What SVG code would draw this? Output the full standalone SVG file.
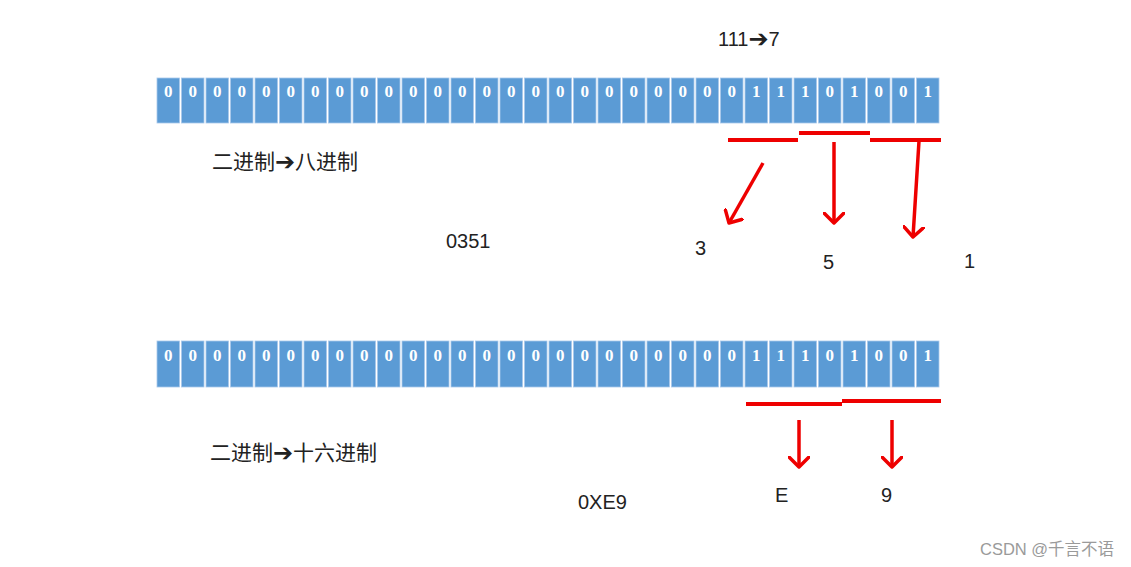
<svg xmlns="http://www.w3.org/2000/svg" width="1131" height="567" viewBox="0 0 1131 567">
<style>
.cell{fill:#5b9bd5;stroke:#a9c8ea;stroke-width:0.8}
.bit{font-family:"Liberation Serif",serif;font-weight:bold;font-size:17px;fill:#ffffff;text-anchor:middle}
.lbl{font-family:"Liberation Sans",Arial,sans-serif;font-size:20px;fill:#222222}
.cn{font-family:"Liberation Sans","Noto Sans CJK SC",sans-serif;font-size:21px;fill:#222222}
.ar{font-family:"DejaVu Sans",sans-serif;font-size:24px}
.bar{stroke:#ee0000;stroke-width:4;fill:none}
.arr{stroke:#ee0000;stroke-width:3.5;fill:none;marker-end:url(#ah)}
.wm{font-family:"Liberation Sans","Noto Sans CJK SC",sans-serif;font-size:16.5px;fill:#9a9a9a}
</style>
<defs>
<marker id="ah" viewBox="0 0 22 22" refX="11" refY="11" markerWidth="22" markerHeight="22" markerUnits="userSpaceOnUse" orient="auto">
<polyline points="1,1 11,11 1,21" fill="none" stroke="#ee0000" stroke-width="3.5" stroke-linecap="round" stroke-linejoin="round"/>
</marker>
</defs>
<rect width="1131" height="567" fill="#ffffff"/>

<g id="row1">
<g id="a0" transform="translate(157,78)"><rect class="cell" width="22.5" height="45"/><text class="bit" x="11.25" y="19">0</text></g>
<g id="a1" transform="translate(181.5,78)"><rect class="cell" width="22.5" height="45"/><text class="bit" x="11.25" y="19">0</text></g>
<g id="a2" transform="translate(206,78)"><rect class="cell" width="22.5" height="45"/><text class="bit" x="11.25" y="19">0</text></g>
<g id="a3" transform="translate(230.5,78)"><rect class="cell" width="22.5" height="45"/><text class="bit" x="11.25" y="19">0</text></g>
<g id="a4" transform="translate(255,78)"><rect class="cell" width="22.5" height="45"/><text class="bit" x="11.25" y="19">0</text></g>
<g id="a5" transform="translate(279.5,78)"><rect class="cell" width="22.5" height="45"/><text class="bit" x="11.25" y="19">0</text></g>
<g id="a6" transform="translate(304,78)"><rect class="cell" width="22.5" height="45"/><text class="bit" x="11.25" y="19">0</text></g>
<g id="a7" transform="translate(328.5,78)"><rect class="cell" width="22.5" height="45"/><text class="bit" x="11.25" y="19">0</text></g>
<g id="a8" transform="translate(353,78)"><rect class="cell" width="22.5" height="45"/><text class="bit" x="11.25" y="19">0</text></g>
<g id="a9" transform="translate(377.5,78)"><rect class="cell" width="22.5" height="45"/><text class="bit" x="11.25" y="19">0</text></g>
<g id="a10" transform="translate(402,78)"><rect class="cell" width="22.5" height="45"/><text class="bit" x="11.25" y="19">0</text></g>
<g id="a11" transform="translate(426.5,78)"><rect class="cell" width="22.5" height="45"/><text class="bit" x="11.25" y="19">0</text></g>
<g id="a12" transform="translate(451,78)"><rect class="cell" width="22.5" height="45"/><text class="bit" x="11.25" y="19">0</text></g>
<g id="a13" transform="translate(475.5,78)"><rect class="cell" width="22.5" height="45"/><text class="bit" x="11.25" y="19">0</text></g>
<g id="a14" transform="translate(500,78)"><rect class="cell" width="22.5" height="45"/><text class="bit" x="11.25" y="19">0</text></g>
<g id="a15" transform="translate(524.5,78)"><rect class="cell" width="22.5" height="45"/><text class="bit" x="11.25" y="19">0</text></g>
<g id="a16" transform="translate(549,78)"><rect class="cell" width="22.5" height="45"/><text class="bit" x="11.25" y="19">0</text></g>
<g id="a17" transform="translate(573.5,78)"><rect class="cell" width="22.5" height="45"/><text class="bit" x="11.25" y="19">0</text></g>
<g id="a18" transform="translate(598,78)"><rect class="cell" width="22.5" height="45"/><text class="bit" x="11.25" y="19">0</text></g>
<g id="a19" transform="translate(622.5,78)"><rect class="cell" width="22.5" height="45"/><text class="bit" x="11.25" y="19">0</text></g>
<g id="a20" transform="translate(647,78)"><rect class="cell" width="22.5" height="45"/><text class="bit" x="11.25" y="19">0</text></g>
<g id="a21" transform="translate(671.5,78)"><rect class="cell" width="22.5" height="45"/><text class="bit" x="11.25" y="19">0</text></g>
<g id="a22" transform="translate(696,78)"><rect class="cell" width="22.5" height="45"/><text class="bit" x="11.25" y="19">0</text></g>
<g id="a23" transform="translate(720.5,78)"><rect class="cell" width="22.5" height="45"/><text class="bit" x="11.25" y="19">0</text></g>
<g id="a24" transform="translate(745,78)"><rect class="cell" width="22.5" height="45"/><text class="bit" x="11.25" y="19">1</text></g>
<g id="a25" transform="translate(769.5,78)"><rect class="cell" width="22.5" height="45"/><text class="bit" x="11.25" y="19">1</text></g>
<g id="a26" transform="translate(794,78)"><rect class="cell" width="22.5" height="45"/><text class="bit" x="11.25" y="19">1</text></g>
<g id="a27" transform="translate(818.5,78)"><rect class="cell" width="22.5" height="45"/><text class="bit" x="11.25" y="19">0</text></g>
<g id="a28" transform="translate(843,78)"><rect class="cell" width="22.5" height="45"/><text class="bit" x="11.25" y="19">1</text></g>
<g id="a29" transform="translate(867.5,78)"><rect class="cell" width="22.5" height="45"/><text class="bit" x="11.25" y="19">0</text></g>
<g id="a30" transform="translate(892,78)"><rect class="cell" width="22.5" height="45"/><text class="bit" x="11.25" y="19">0</text></g>
<g id="a31" transform="translate(916.5,78)"><rect class="cell" width="22.5" height="45"/><text class="bit" x="11.25" y="19">1</text></g>
</g>

<g id="row2">
<g id="b0" transform="translate(157,341)"><rect class="cell" width="22.5" height="46"/><text class="bit" x="11.25" y="20">0</text></g>
<g id="b1" transform="translate(181.5,341)"><rect class="cell" width="22.5" height="46"/><text class="bit" x="11.25" y="20">0</text></g>
<g id="b2" transform="translate(206,341)"><rect class="cell" width="22.5" height="46"/><text class="bit" x="11.25" y="20">0</text></g>
<g id="b3" transform="translate(230.5,341)"><rect class="cell" width="22.5" height="46"/><text class="bit" x="11.25" y="20">0</text></g>
<g id="b4" transform="translate(255,341)"><rect class="cell" width="22.5" height="46"/><text class="bit" x="11.25" y="20">0</text></g>
<g id="b5" transform="translate(279.5,341)"><rect class="cell" width="22.5" height="46"/><text class="bit" x="11.25" y="20">0</text></g>
<g id="b6" transform="translate(304,341)"><rect class="cell" width="22.5" height="46"/><text class="bit" x="11.25" y="20">0</text></g>
<g id="b7" transform="translate(328.5,341)"><rect class="cell" width="22.5" height="46"/><text class="bit" x="11.25" y="20">0</text></g>
<g id="b8" transform="translate(353,341)"><rect class="cell" width="22.5" height="46"/><text class="bit" x="11.25" y="20">0</text></g>
<g id="b9" transform="translate(377.5,341)"><rect class="cell" width="22.5" height="46"/><text class="bit" x="11.25" y="20">0</text></g>
<g id="b10" transform="translate(402,341)"><rect class="cell" width="22.5" height="46"/><text class="bit" x="11.25" y="20">0</text></g>
<g id="b11" transform="translate(426.5,341)"><rect class="cell" width="22.5" height="46"/><text class="bit" x="11.25" y="20">0</text></g>
<g id="b12" transform="translate(451,341)"><rect class="cell" width="22.5" height="46"/><text class="bit" x="11.25" y="20">0</text></g>
<g id="b13" transform="translate(475.5,341)"><rect class="cell" width="22.5" height="46"/><text class="bit" x="11.25" y="20">0</text></g>
<g id="b14" transform="translate(500,341)"><rect class="cell" width="22.5" height="46"/><text class="bit" x="11.25" y="20">0</text></g>
<g id="b15" transform="translate(524.5,341)"><rect class="cell" width="22.5" height="46"/><text class="bit" x="11.25" y="20">0</text></g>
<g id="b16" transform="translate(549,341)"><rect class="cell" width="22.5" height="46"/><text class="bit" x="11.25" y="20">0</text></g>
<g id="b17" transform="translate(573.5,341)"><rect class="cell" width="22.5" height="46"/><text class="bit" x="11.25" y="20">0</text></g>
<g id="b18" transform="translate(598,341)"><rect class="cell" width="22.5" height="46"/><text class="bit" x="11.25" y="20">0</text></g>
<g id="b19" transform="translate(622.5,341)"><rect class="cell" width="22.5" height="46"/><text class="bit" x="11.25" y="20">0</text></g>
<g id="b20" transform="translate(647,341)"><rect class="cell" width="22.5" height="46"/><text class="bit" x="11.25" y="20">0</text></g>
<g id="b21" transform="translate(671.5,341)"><rect class="cell" width="22.5" height="46"/><text class="bit" x="11.25" y="20">0</text></g>
<g id="b22" transform="translate(696,341)"><rect class="cell" width="22.5" height="46"/><text class="bit" x="11.25" y="20">0</text></g>
<g id="b23" transform="translate(720.5,341)"><rect class="cell" width="22.5" height="46"/><text class="bit" x="11.25" y="20">0</text></g>
<g id="b24" transform="translate(745,341)"><rect class="cell" width="22.5" height="46"/><text class="bit" x="11.25" y="20">1</text></g>
<g id="b25" transform="translate(769.5,341)"><rect class="cell" width="22.5" height="46"/><text class="bit" x="11.25" y="20">1</text></g>
<g id="b26" transform="translate(794,341)"><rect class="cell" width="22.5" height="46"/><text class="bit" x="11.25" y="20">1</text></g>
<g id="b27" transform="translate(818.5,341)"><rect class="cell" width="22.5" height="46"/><text class="bit" x="11.25" y="20">0</text></g>
<g id="b28" transform="translate(843,341)"><rect class="cell" width="22.5" height="46"/><text class="bit" x="11.25" y="20">1</text></g>
<g id="b29" transform="translate(867.5,341)"><rect class="cell" width="22.5" height="46"/><text class="bit" x="11.25" y="20">0</text></g>
<g id="b30" transform="translate(892,341)"><rect class="cell" width="22.5" height="46"/><text class="bit" x="11.25" y="20">0</text></g>
<g id="b31" transform="translate(916.5,341)"><rect class="cell" width="22.5" height="46"/><text class="bit" x="11.25" y="20">1</text></g>
</g>

<g id="connectors">
<line class="bar" x1="728" y1="140" x2="798" y2="140"/>
<line class="bar" x1="799" y1="133" x2="870" y2="133"/>
<line class="bar" x1="870" y1="140" x2="941" y2="140"/>
<line class="arr" x1="763" y1="163" x2="729" y2="223"/>
<line class="arr" x1="834" y1="142" x2="834" y2="223"/>
<line class="arr" x1="919" y1="141" x2="913" y2="237"/>
<line class="bar" x1="746" y1="404" x2="842" y2="404"/>
<line class="bar" x1="842" y1="401" x2="941" y2="401"/>
<line class="arr" x1="799" y1="420" x2="799" y2="467"/>
<line class="arr" x1="892" y1="420" x2="892" y2="467"/>
</g>

<g id="labels">
<text class="lbl" x="718" y="46">111<tspan class="ar" dy="1">➔</tspan><tspan dy="-1">7</tspan></text>
<text class="cn" x="212" y="169">二进制<tspan class="ar" dy="1">➔</tspan><tspan dy="-1">八进制</tspan></text>
<text class="lbl" x="446" y="248">0351</text>
<text class="lbl" x="695" y="255">3</text>
<text class="lbl" x="823" y="269">5</text>
<text class="lbl" x="964" y="268">1</text>
<text class="cn" x="210" y="460">二进制<tspan class="ar" dy="1">➔</tspan><tspan dy="-1">十六进制</tspan></text>
<text class="lbl" x="578" y="509">0XE9</text>
<text class="lbl" x="775" y="502">E</text>
<text class="lbl" x="881" y="502">9</text>
<text class="wm" x="980" y="555">CSDN @千言不语</text>
</g>
</svg>
